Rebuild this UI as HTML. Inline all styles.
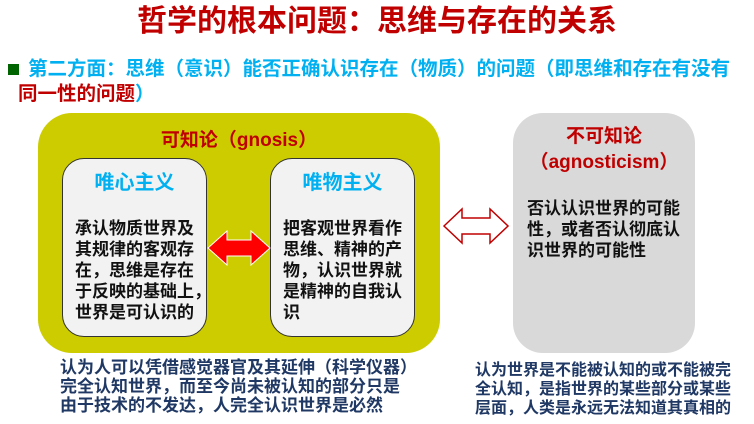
<!DOCTYPE html>
<html><head><meta charset="utf-8"><style>
*{margin:0;padding:0}
body{width:754px;height:424px;background:#fff;position:relative;overflow:hidden;font-family:"Liberation Sans","Noto Sans CJK SC",sans-serif;font-weight:bold}
.a{position:absolute}
.t{font-size:17px;line-height:21px;color:#111;white-space:nowrap}
</style></head><body>
<div class="a" style="left:0;top:2px;width:754px;text-align:center;font-size:30px;color:#c00000;line-height:40px">哲学的根本问题：思维与存在的关系</div>
<div class="a" style="left:8px;top:64px;width:11px;height:11px;background:#006400"></div>
<div class="a" style="left:28px;top:57px;font-size:19.5px;line-height:24px;color:#00b0f0;white-space:nowrap">第二方面：思维（意识）能否正确认识存在（物质）的问题（即思维和存在有没有</div>
<div class="a" style="left:18px;top:82px;font-size:19.5px;line-height:24px;color:#c00000;white-space:nowrap">同一性的问题<span style="color:#00b0f0">）</span></div>

<div class="a" style="left:38px;top:113px;width:402px;height:240px;background:#cccc00;border-radius:34px"></div>
<div class="a" style="left:38px;top:125px;width:402px;text-align:center;font-size:19px;color:#c00000">可知论（gnosis）</div>
<div class="a" style="left:62px;top:158px;width:143px;height:177px;background:#f2f2f2;border:1px solid #333;border-radius:22px"></div>
<div class="a" style="left:62px;top:166px;width:145px;text-align:center;font-size:20px;color:#00b0f0">唯心主义</div>
<div class="a t" style="left:75px;top:218px">承认物质世界及<br>其规律的客观存<br>在，思维是存在<br>于反映的基础上，<br>世界是可认识的</div>
<div class="a" style="left:270px;top:158px;width:143px;height:177px;background:#f2f2f2;border:1px solid #333;border-radius:22px"></div>
<div class="a" style="left:270px;top:166px;width:145px;text-align:center;font-size:20px;color:#00b0f0">唯物主义</div>
<div class="a t" style="left:283px;top:218px">把客观世界看作<br>思维、精神的产<br>物，认识世界就<br>是精神的自我认<br>识</div>
<svg class="a" style="left:205px;top:225px" width="68" height="46"><polygon points="3,23 22,6 22,15 46,15 46,6 65,23 46,40 46,31 22,31 22,40" fill="#ff0000" stroke="#fff" stroke-width="1"/></svg>

<svg class="a" style="left:440px;top:205px" width="72" height="42"><polygon points="4,21 22,4 22,13 50,13 50,4 68,21 50,38 50,29 22,29 22,38" fill="#fff" stroke="#c00000" stroke-width="1.5"/></svg>

<div class="a" style="left:513px;top:113px;width:182px;height:240px;background:#d9d9d9;border-radius:30px"></div>
<div class="a" style="left:513px;top:124px;width:182px;text-align:center;font-size:19px;line-height:26px;color:#c00000">不可知论<br>（agnosticism）</div>
<div class="a t" style="left:527px;top:198px">否认认识世界的可能<br>性，或者否认彻底认<br>识世界的可能性</div>

<div class="a" style="left:60px;top:358px;font-size:17px;line-height:19px;color:#1f3864;white-space:nowrap">认为人可以凭借感觉器官及其延伸（科学仪器）<br>完全认知世界，而至今尚未被认知的部分只是<br>由于技术的不发达，人完全认识世界是必然</div>
<div class="a" style="left:475px;top:361px;font-size:16px;line-height:19px;color:#1f3864;white-space:nowrap">认为世界是不能被认知的或不能被完<br>全认知，是指世界的某些部分或某些<br>层面，人类是永远无法知道其真相的</div>
</body></html>
